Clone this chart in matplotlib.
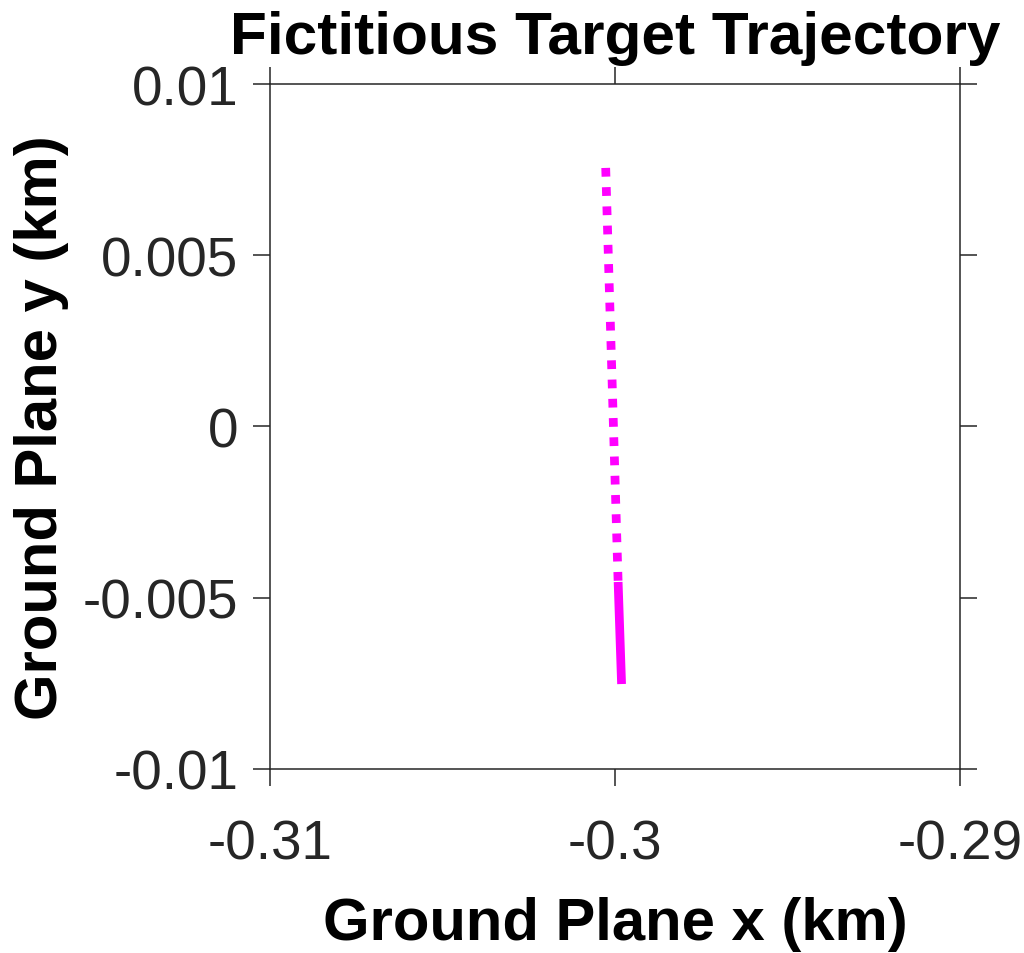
import matplotlib
matplotlib.use("Agg")
import matplotlib.pyplot as plt

plt.rcParams['font.family'] = ['Liberation Sans', 'DejaVu Sans']

# Trajectory data (km)
past_x = [-0.30027, -0.29991]
past_y = [0.00755, -0.00454]
current_x = [-0.29991, -0.29981]
current_y = [-0.00454, -0.00752]

xticks = [-0.31, -0.30, -0.29]
xticklabels = ['-0.31', '-0.3', '-0.29']
yticks = [-0.01, -0.005, 0, 0.005, 0.01]
yticklabels = ['-0.01', '-0.005', '0', '0.005', '0.01']

title = 'Fictitious Target Trajectory'
xlabel = 'Ground Plane x (km)'
ylabel = 'Ground Plane y (km)'

fig = plt.figure(figsize=(10.24, 9.54), dpi=100)
ax = fig.add_axes([0.2637, 0.1929, 0.6738, 0.7180])

ax.plot(past_x, past_y, color='#FF00FF', linewidth=6.3,
        linestyle=(0, (1, 1.2)), dash_capstyle='butt')
ax.plot(current_x, current_y, color='#FF00FF', linewidth=6.3,
        solid_capstyle='butt')

ax.set_xlim(-0.31, -0.29)
ax.set_ylim(-0.01, 0.01)
ax.set_xticks(xticks)
ax.set_xticklabels(xticklabels)
ax.set_yticks(yticks)
ax.set_yticklabels(yticklabels)

axis_color = '#262626'
for s in ax.spines.values():
    s.set_color(axis_color)
    s.set_linewidth(1.1)

ax.tick_params(direction='out', length=12, width=1.1, color=axis_color,
               labelcolor=axis_color, labelsize=39.5,
               top=True, right=True, labeltop=False, labelright=False)
ax.tick_params(axis='x', pad=24)
ax.tick_params(axis='y', pad=11)

ax.set_title(title, fontsize=43.5, fontweight='bold', pad=22)
ax.set_xlabel(xlabel, fontsize=43, fontweight='bold', labelpad=18)
ax.set_ylabel(ylabel, fontsize=43, fontweight='bold', labelpad=10)

fig.savefig('out.png', dpi=100)
